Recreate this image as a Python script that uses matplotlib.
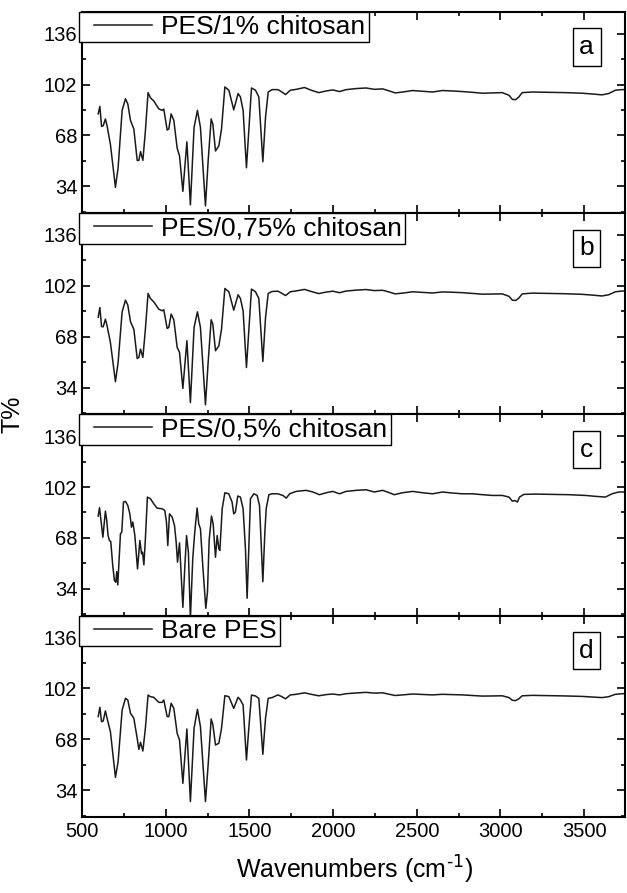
#!/usr/bin/env python3

import matplotlib
matplotlib.use("Agg")
import matplotlib.pyplot as plt
from matplotlib.ticker import MultipleLocator
from matplotlib.legend_handler import HandlerLine2D

# fingerprint region, shared x grid for panels a, b, d (cm-1)
wn_fp = [596, 606, 616, 626, 639, 649, 669, 699, 715, 739, 759, 773, 789, 809,
         829, 839, 849, 863, 878, 894, 908, 928, 958, 978, 988, 1008, 1018, 1032,
         1048, 1068, 1082, 1102, 1126, 1147, 1169, 1189, 1207, 1237, 1253, 1271,
         1281, 1297, 1317, 1333, 1353, 1377, 1406, 1432, 1446, 1462, 1482, 1496,
         1512, 1536, 1556, 1580, 1596, 1612, 1635]

t_a_fp = [82.4, 87.4, 74.0, 74.5, 79.0, 74.5, 62.0, 33.3, 46.4, 84.7, 92.5, 89.0,
          78.0, 72.3, 51.3, 51.3, 57.2, 51.3, 71.0, 96.6, 93.2, 91.0, 85.8, 84.7,
          85.6, 71.6, 72.3, 82.4, 78.0, 59.4, 54.3, 30.6, 63.7, 21.6, 73.4, 84.7,
          73.4, 20.9, 50.9, 79.0, 75.6, 57.6, 61.0, 72.3, 100.4, 98.2, 85.1, 96.0,
          93.7, 84.7, 46.4, 71.2, 99.7, 98.2, 93.7, 50.4, 80.2, 97.0, 98.6]

t_b_fp = [81.0, 87.5, 74.8, 74.6, 79.7, 75.3, 64.1, 37.9, 50.8, 84.6, 92.4, 89.1,
          78.0, 73.0, 53.4, 54.1, 59.7, 54.1, 73.0, 96.9, 93.5, 91.3, 86.4, 85.3,
          86.0, 73.5, 74.2, 83.1, 79.3, 60.8, 57.5, 33.4, 65.3, 24.0, 74.2, 84.6,
          74.2, 22.5, 50.8, 79.3, 76.4, 58.6, 61.9, 73.0, 100.2, 98.0, 85.7, 96.0,
          93.5, 85.3, 47.4, 71.9, 99.8, 98.0, 93.5, 51.4, 80.8, 96.9, 98.2]

t_d_fp = [83.1, 89.3, 79.7, 80.2, 86.9, 82.0, 73.0, 42.5, 53.0, 87.5, 95.3, 94.2,
          85.3, 82.0, 68.6, 61.2, 65.9, 60.1, 75.3, 97.5, 96.4, 96.0, 92.6, 92.6,
          94.2, 83.1, 83.1, 92.0, 88.6, 71.9, 67.5, 38.5, 74.8, 26.3, 75.3, 88.0,
          76.4, 26.3, 50.8, 81.5, 77.9, 64.1, 65.3, 75.3, 97.1, 96.4, 88.6, 96.0,
          94.2, 90.9, 54.1, 75.3, 97.5, 96.9, 95.3, 57.9, 82.0, 95.3, 95.8]

# panel c has more structure, own x grid
wn_c_fp = [596, 604, 614, 624, 631, 639, 647, 655, 663, 671, 683, 693, 701, 707,
           713, 719, 729, 737, 747, 759, 773, 785, 795, 803, 815, 831, 845, 855,
           861, 869, 878, 890, 908, 928, 948, 978, 994, 1004, 1012, 1022, 1038,
           1052, 1062, 1070, 1082, 1092, 1102, 1114, 1124, 1135, 1147, 1161, 1173,
           1187, 1197, 1207, 1221, 1239, 1249, 1259, 1273, 1283, 1297, 1307, 1317,
           1323, 1337, 1353, 1376, 1396, 1406, 1416, 1430, 1446, 1462, 1476, 1486,
           1496, 1506, 1526, 1546, 1560, 1580, 1592, 1600, 1616, 1635]

t_c_fp = [82.6, 88.2, 78.6, 68.5, 76.3, 85.9, 79.7, 69.6, 66.3, 65.6, 49.5, 39.5,
          38.4, 45.5, 36.6, 49.5, 70.8, 71.9, 92.0, 92.4, 89.7, 84.1, 75.2, 78.6,
          69.6, 47.3, 66.3, 57.4, 58.5, 50.0, 67.4, 95.3, 94.2, 90.8, 87.9, 87.5,
          86.4, 78.6, 62.9, 84.1, 81.9, 76.3, 65.2, 51.8, 64.7, 42.8, 21.6, 49.5,
          69.6, 58.5, 14.0, 54.0, 71.9, 88.0, 77.4, 74.1, 49.5, 21.0, 31.7, 66.3,
          82.6, 77.4, 55.1, 69.6, 60.7, 59.6, 87.5, 98.2, 97.5, 92.0, 84.1, 85.3,
          96.0, 95.3, 87.5, 60.7, 27.7, 60.7, 94.2, 97.5, 96.4, 89.7, 38.8, 71.9,
          87.5, 96.9, 97.5]

# high wavenumber region
wn_tail = [1670, 1690, 1716, 1744, 1780, 1829, 1869, 1914, 1958, 1998, 2038, 2078,
           2137, 2197, 2246, 2296, 2336, 2371, 2415, 2475, 2534, 2594, 2653, 2713,
           2773, 2832, 2892, 2951, 3011, 3051, 3071, 3091, 3110, 3130, 3190, 3289,
           3389, 3488, 3547, 3607, 3647, 3687, 3726, 3745]

t_a_tail = [98.6, 97.3, 95.3, 98.2, 98.8, 100.0, 98.2, 96.6, 97.7, 98.4, 97.3, 98.6,
            99.3, 99.7, 98.8, 99.1, 97.7, 96.4, 97.0, 98.0, 97.5, 97.0, 98.0, 97.7,
            97.3, 96.8, 96.2, 96.4, 96.6, 94.8, 92.1, 91.9, 93.7, 96.6, 97.0, 96.8,
            96.6, 96.2, 95.7, 95.1, 96.0, 98.2, 98.6, 98.6]

t_b_tail = [98.4, 97.2, 95.5, 98.0, 98.6, 99.6, 98.2, 96.8, 97.8, 98.4, 97.4, 98.5,
            99.1, 99.5, 98.8, 99.0, 97.8, 96.6, 97.1, 98.0, 97.6, 97.2, 97.9, 97.7,
            97.4, 96.9, 96.4, 96.5, 96.6, 95.0, 92.4, 92.2, 93.8, 96.6, 97.1, 96.9,
            96.7, 96.3, 95.8, 95.2, 96.0, 98.0, 98.5, 98.5]

t_d_tail = [97.6, 96.6, 95.0, 97.6, 98.0, 99.0, 98.0, 97.0, 97.8, 98.2, 97.6, 98.4,
            98.9, 99.3, 98.8, 99.0, 98.0, 97.2, 97.6, 98.2, 97.9, 97.6, 98.0, 97.8,
            97.6, 97.2, 96.8, 96.9, 97.0, 95.8, 94.0, 93.8, 95.0, 97.0, 97.3, 97.1,
            96.9, 96.6, 96.2, 95.8, 96.4, 98.0, 98.4, 98.4]

wn_c_tail = [1670, 1700, 1720, 1740, 1779, 1839, 1879, 1918, 1958, 1998, 2038, 2077,
             2137, 2197, 2246, 2296, 2336, 2365, 2415, 2475, 2534, 2594, 2654, 2713,
             2773, 2832, 2892, 2952, 3011, 3051, 3071, 3087, 3101, 3114, 3140, 3209,
             3309, 3408, 3508, 3567, 3627, 3667, 3706, 3745]

t_c_tail = [97.5, 96.4, 94.6, 97.5, 99.1, 99.8, 98.7, 96.9, 98.2, 99.1, 97.5, 99.1,
            99.8, 100.2, 98.7, 99.8, 98.2, 96.9, 98.2, 99.1, 98.2, 97.5, 98.7, 98.0,
            97.5, 97.5, 96.9, 96.4, 96.4, 95.3, 92.6, 93.0, 92.0, 95.3, 97.1, 97.3,
            97.1, 96.9, 96.4, 95.8, 95.3, 97.5, 98.7, 98.7]

labels = ["PES/1% chitosan", "PES/0,75% chitosan", "PES/0,5% chitosan", "Bare PES"]
letters = ["a", "b", "c", "d"]


def main():
    plt.rcParams["font.family"] = ["Liberation Sans", "DejaVu Sans"]
    plt.rcParams["mathtext.default"] = "regular"

    series = [
        (wn_fp + wn_tail, t_a_fp + t_a_tail),
        (wn_fp + wn_tail, t_b_fp + t_b_tail),
        (wn_c_fp + wn_c_tail, t_c_fp + t_c_tail),
        (wn_fp + wn_tail, t_d_fp + t_d_tail),
    ]

    fig, panels = plt.subplots(4, 1, figsize=(6.27, 8.93), dpi=100, sharex=True)
    fig.subplots_adjust(left=0.131, right=0.997, top=0.9866, bottom=0.0851,
                        hspace=0)

    for panel, (x, y), lab, let in zip(panels, series, labels, letters):
        line, = panel.plot(x, y, color="#1a1a1a", linewidth=1.1, label=lab)
        panel.set_xlim(500, 3745)
        panel.set_ylim(16, 150.5)
        panel.yaxis.set_major_locator(MultipleLocator(34))
        panel.yaxis.set_minor_locator(MultipleLocator(17))
        panel.xaxis.set_major_locator(MultipleLocator(500))
        panel.xaxis.set_minor_locator(MultipleLocator(250))
        panel.set_yticks([34, 68, 102, 136])
        panel.tick_params(which="both", direction="in", top=True, right=True,
                          width=1.2, labelsize=14.5)
        panel.tick_params(which="major", length=6)
        panel.tick_params(which="minor", length=3)
        for s in panel.spines.values():
            s.set_linewidth(1.5)
        leg = panel.legend(loc="upper left", bbox_to_anchor=(-0.006, 1.0),
                           borderaxespad=0, fontsize=19, fancybox=False,
                           edgecolor="black", framealpha=1, borderpad=0.12,
                           handlelength=2.65, handletextpad=0.35,
                           handler_map={line: HandlerLine2D(xpad=0.47)})
        leg.get_frame().set_linewidth(1.0)
        panel.text(0.929, 0.826, let, transform=panel.transAxes, fontsize=19,
                   ha="center", va="center",
                   bbox=dict(boxstyle="square,pad=0.25", fc="white", ec="black",
                             lw=1.0))

    fig.text(0.566, 0.026, r"Wavenumbers (cm$^{\text{-1}}$)", ha="center",
             va="center", fontsize=18)
    fig.text(0.02, 0.536, "T%", ha="center", va="center", rotation=90,
             fontsize=18)

    plt.savefig("out.png", dpi=100)


if __name__ == "__main__":
    main()
